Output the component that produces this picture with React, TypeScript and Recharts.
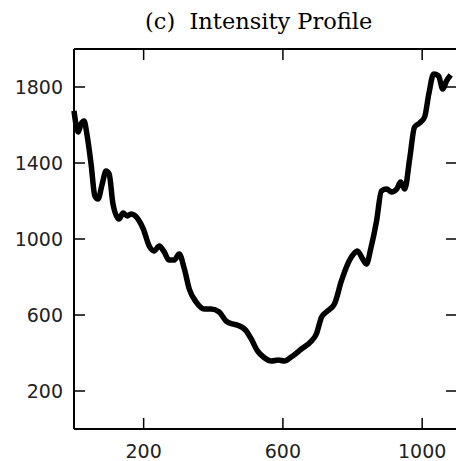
import { LineChart, Line, XAxis, YAxis, ReferenceLine } from "recharts";

const positions = [0, 12, 20, 29, 37, 49, 60, 69, 81, 92, 101, 112, 129, 141, 153, 164, 184, 199, 216, 230, 245, 259, 273, 288, 302, 317, 331, 351, 374, 394, 417, 437, 455, 469, 495, 509, 527, 544, 567, 587, 604, 624, 653, 682, 696, 711, 725, 748, 768, 786, 803, 814, 829, 840, 852, 869, 883, 898, 912, 927, 938, 950, 964, 978, 993, 1007, 1019, 1033, 1047, 1059, 1070, 1082];
const intensity = [1674, 1563, 1605, 1621, 1553, 1395, 1226, 1210, 1290, 1358, 1342, 1184, 1105, 1137, 1121, 1132, 1105, 1053, 963, 937, 963, 932, 889, 889, 921, 842, 737, 668, 632, 632, 616, 568, 553, 547, 516, 474, 411, 379, 358, 363, 358, 379, 421, 463, 500, 589, 616, 658, 779, 868, 921, 937, 895, 868, 947, 1095, 1253, 1263, 1247, 1263, 1300, 1263, 1421, 1589, 1611, 1642, 1763, 1868, 1858, 1789, 1832, 1863];
const xTicks = [200, 600, 1000];
const yTicks = [200, 600, 1000, 1400, 1800];
const xDomain = [0, 1100];
const yDomain = [0, 2000];

const data = positions.map((p, i) => ({ pos: p, value: intensity[i] }));

// layout
const CHART_W = 460;
const CHART_H = 461;
const MARGIN = { top: 48, right: 3, left: 0, bottom: 0 };
const Y_AXIS_W = 74;
const X_AXIS_H = 32;
const TOP_AXIS_H = 1;
const PLOT_W = CHART_W - MARGIN.left - MARGIN.right - Y_AXIS_W;
const PLOT_H = CHART_H - MARGIN.top - MARGIN.bottom - X_AXIS_H - TOP_AXIS_H;

// inward tick length (11px) expressed in data units
const TICK_PX = 11;
const tickX = (TICK_PX / PLOT_W) * (xDomain[1] - xDomain[0]);
const tickY = (TICK_PX / PLOT_H) * (yDomain[1] - yDomain[0]);

const GAP = 11;
const labelFont = { fontFamily: "DejaVu Sans", fontSize: 19, fill: "#222" };

function LeftLabel(props: any) {
  return (
    <text x={Number(props.x)} y={Number(props.y)} dy="0.36em" textAnchor="end" {...labelFont}>
      {props.payload.value}
    </text>
  );
}

function BottomLabel(props: any) {
  return (
    <text x={Number(props.x)} y={Number(props.y) + 5} dy="0.71em" textAnchor="middle" {...labelFont}>
      {props.payload.value}
    </text>
  );
}

const tickStroke = { stroke: "#000", strokeWidth: 1.5, ifOverflow: "visible" as const };

export default function App() {
  return (
    <div style={{ position: "absolute", left: 0, top: 0, width: 456, height: 461, overflow: "hidden", background: "#fff" }}>
      <div style={{ position: "absolute", top: 8, left: 145, fontFamily: "DejaVu Serif", fontSize: 22.5, color: "#000", whiteSpace: "pre" }}>
        (c)  Intensity Profile
      </div>
      <LineChart width={CHART_W} height={CHART_H} data={data} margin={MARGIN}>
        <XAxis
          dataKey="pos"
          type="number"
          domain={xDomain}
          ticks={xTicks}
          height={X_AXIS_H}
          tick={(p: any) => <BottomLabel {...p} />}
          tickSize={0}
          tickMargin={GAP}
          tickLine={false}
          stroke="#000"
          strokeWidth={2}
        />
        <XAxis
          xAxisId="top"
          orientation="top"
          dataKey="pos"
          type="number"
          domain={xDomain}
          height={TOP_AXIS_H}
          tick={false}
          tickLine={false}
          stroke="#000"
          strokeWidth={2}
        />
        <YAxis
          type="number"
          domain={yDomain}
          ticks={yTicks}
          width={Y_AXIS_W}
          tick={(p: any) => <LeftLabel {...p} />}
          tickSize={0}
          tickMargin={GAP}
          tickLine={false}
          stroke="#000"
          strokeWidth={2}
        />
        {xTicks.map((t) => (
          <ReferenceLine key={`b${t}`} segment={[{ x: t, y: yDomain[0] }, { x: t, y: yDomain[0] + tickY }]} {...tickStroke} />
        ))}
        {xTicks.map((t) => (
          <ReferenceLine key={`t${t}`} segment={[{ x: t, y: yDomain[1] - tickY }, { x: t, y: yDomain[1] }]} {...tickStroke} />
        ))}
        {yTicks.map((t) => (
          <ReferenceLine key={`l${t}`} segment={[{ x: xDomain[0], y: t }, { x: xDomain[0] + tickX, y: t }]} {...tickStroke} />
        ))}
        {yTicks.map((t) => (
          <ReferenceLine key={`r${t}`} segment={[{ x: xDomain[1] - tickX, y: t }, { x: xDomain[1], y: t }]} {...tickStroke} />
        ))}
        <Line
          dataKey="value"
          type="monotone"
          stroke="#000"
          strokeWidth={5.5}
          strokeLinejoin="round"
          dot={false}
          isAnimationActive={false}
        />
      </LineChart>
    </div>
  );
}
